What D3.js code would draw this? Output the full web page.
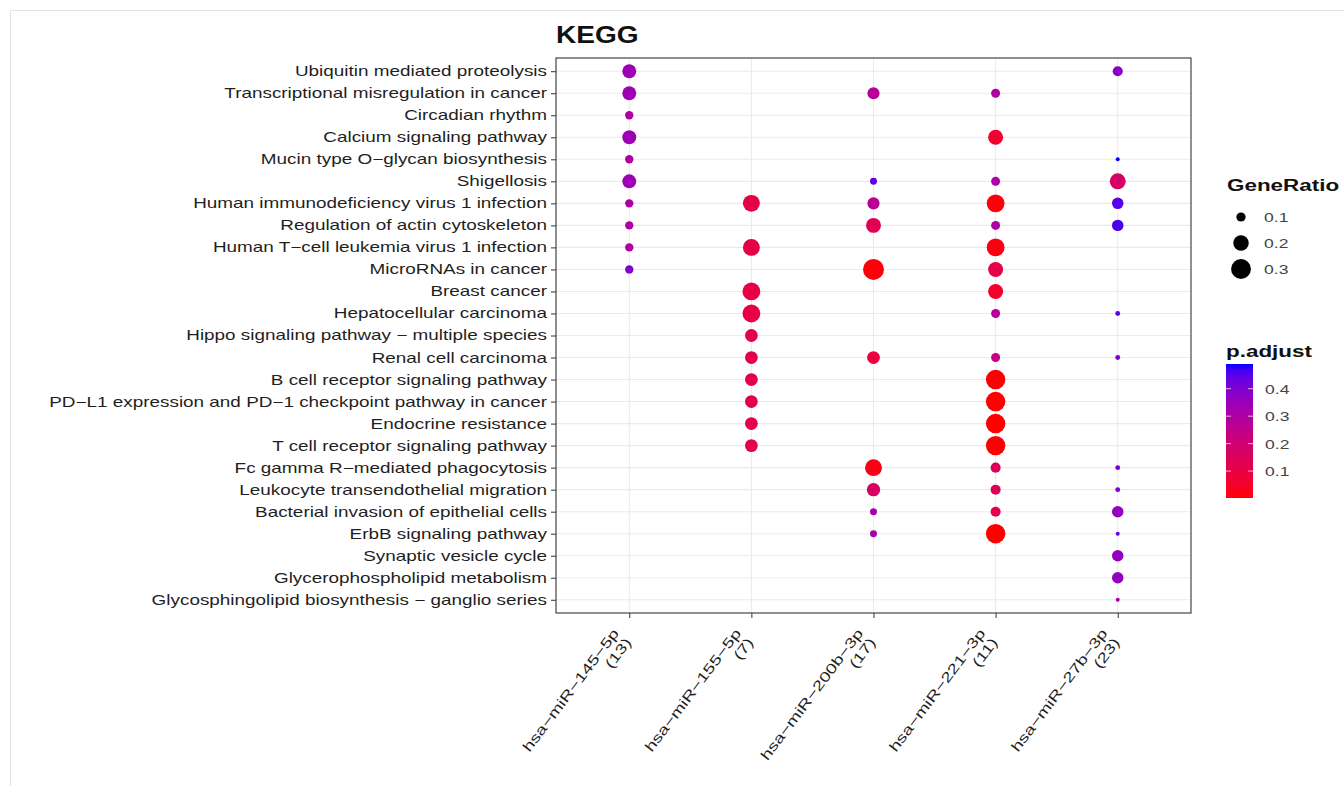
<!DOCTYPE html>
<html>
<head>
<meta charset="utf-8">
<script src="https://cdn.jsdelivr.net/npm/d3@7"></script>
<style>
  body { margin: 0; background: #fff; }
  text { font-family: "Liberation Sans", Arial, sans-serif; }
</style>
</head>
<body>
<div id="my_dataviz"></div>
<script>

// pathway names, top to bottom
var pathways = [
    "Ubiquitin mediated proteolysis",
    "Transcriptional misregulation in cancer",
    "Circadian rhythm",
    "Calcium signaling pathway",
    "Mucin type O\u2212glycan biosynthesis",
    "Shigellosis",
    "Human immunodeficiency virus 1 infection",
    "Regulation of actin cytoskeleton",
    "Human T\u2212cell leukemia virus 1 infection",
    "MicroRNAs in cancer",
    "Breast cancer",
    "Hepatocellular carcinoma",
    "Hippo signaling pathway \u2212 multiple species",
    "Renal cell carcinoma",
    "B cell receptor signaling pathway",
    "PD\u2212L1 expression and PD\u22121 checkpoint pathway in cancer",
    "Endocrine resistance",
    "T cell receptor signaling pathway",
    "Fc gamma R\u2212mediated phagocytosis",
    "Leukocyte transendothelial migration",
    "Bacterial invasion of epithelial cells",
    "ErbB signaling pathway",
    "Synaptic vesicle cycle",
    "Glycerophospholipid metabolism",
    "Glycosphingolipid biosynthesis \u2212 ganglio series"
];

var clusters = ["hsa\u2212miR\u2212145\u22125p", "hsa\u2212miR\u2212155\u22125p", "hsa\u2212miR\u2212200b\u22123p",
                "hsa\u2212miR\u2212221\u22123p", "hsa\u2212miR\u221227b\u22123p"];
var clusterCounts = [13, 7, 17, 11, 23];

// GeneRatio and p.adjust per cluster, one entry per pathway (null = no dot)
var ratio145 = [0.17, 0.17, 0.09, 0.17, 0.09, 0.17, 0.09, 0.09, 0.09, 0.09, null, null, null, null, null, null, null, null, null, null, null, null, null, null, null];
var padj145  = [0.34, 0.34, 0.30, 0.34, 0.30, 0.34, 0.30, 0.30, 0.30, 0.40, null, null, null, null, null, null, null, null, null, null, null, null, null, null, null];

var ratio155 = [null, null, null, null, null, null, 0.23, null, 0.23, null, 0.25, 0.25, 0.15, 0.15, 0.15, 0.15, 0.15, 0.15, null, null, null, null, null, null, null];
var padj155  = [null, null, null, null, null, null, 0.11, null, 0.11, null, 0.10, 0.10, 0.13, 0.13, 0.13, 0.13, 0.13, 0.13, null, null, null, null, null, null, null];

var ratio200b = [null, 0.14, null, null, null, 0.076, 0.14, 0.19, null, 0.33, null, null, null, 0.15, null, null, null, null, 0.23, 0.16, 0.076, 0.076, null, null, null];
var padj200b  = [null, 0.28, null, null, null, 0.44, 0.27, 0.13, null, 0.01, null, null, null, 0.09, null, null, null, null, 0.02, 0.17, 0.32, 0.32, null, null, null];

var ratio221 = [null, 0.097, null, 0.19, null, 0.097, 0.25, 0.097, 0.25, 0.19, 0.19, 0.097, null, 0.097, 0.29, 0.29, 0.29, 0.29, 0.11, 0.11, 0.11, 0.29, null, null, null];
var padj221  = [null, 0.29, null, 0.06, null, 0.31, 0.01, 0.31, 0.015, 0.11, 0.05, 0.28, null, 0.23, 0.005, 0.004, 0.003, 0.005, 0.15, 0.14, 0.12, 0.002, null, null, null];

var ratio27b = [0.11, null, null, null, 0.055, 0.21, 0.13, 0.13, null, null, null, 0.06, null, 0.06, null, null, null, null, 0.06, 0.06, 0.13, 0.055, 0.13, 0.13, 0.055];
var padj27b  = [0.38, null, null, null, 0.49, 0.17, 0.45, 0.46, null, null, null, 0.44, null, 0.40, null, null, null, null, 0.40, 0.40, 0.36, 0.44, 0.36, 0.36, 0.33];

var ratioBreaks = [0.1, 0.2, 0.3];
var padjBreaks = [0.1, 0.2, 0.3, 0.4];

var ratioSeries = [ratio145, ratio155, ratio200b, ratio221, ratio27b];
var padjSeries = [padj145, padj155, padj200b, padj221, padj27b];

// build one record per dot
var dots = [];
clusters.forEach(function (c, i) {
    pathways.forEach(function (p, j) {
        if (ratioSeries[i][j] != null) {
            dots.push({ cluster: c, pathway: p, ratio: ratioSeries[i][j], padj: padjSeries[i][j] });
        }
    });
});

var W = 1344, H = 786;
var sx = 1.35; // text is drawn a bit wide in the original
var panel = { left: 556, top: 58, right: 1191, bottom: 613 };

var svg = d3.select("#my_dataviz")
    .append("svg")
    .attr("width", W)
    .attr("height", H)
    .style("display", "block");

svg.append("rect").attr("width", W).attr("height", H).attr("fill", "#fff");

// faint frame of the screenshot
svg.append("path")
    .attr("d", "M10.5," + H + "V10.5H" + W)
    .attr("fill", "none")
    .attr("stroke", "#e3e3e3");

// scales
var x = d3.scalePoint()
    .domain(clusters)
    .range([panel.left, panel.right])
    .padding(0.6);

var y = d3.scalePoint()
    .domain(pathways)
    .range([panel.top, panel.bottom])
    .padding(0.6);

var size = d3.scaleRadial()
    .domain(d3.extent(dots, function (d) { return d.ratio; }))
    .range([2, 10.5]);

var color = d3.scaleLinear()
    .domain(d3.extent(dots, function (d) { return d.padj; }))
    .range(["red", "blue"])
    .interpolate(d3.interpolateLab);

// grid
svg.append("g")
    .selectAll("line")
    .data(pathways)
    .join("line")
    .attr("x1", panel.left).attr("x2", panel.right)
    .attr("y1", function (d) { return y(d); })
    .attr("y2", function (d) { return y(d); })
    .attr("stroke", "#ebebeb")
    .attr("stroke-width", 1.1);

svg.append("g")
    .selectAll("line")
    .data(clusters)
    .join("line")
    .attr("y1", panel.top).attr("y2", panel.bottom)
    .attr("x1", function (d) { return x(d); })
    .attr("x2", function (d) { return x(d); })
    .attr("stroke", "#ebebeb")
    .attr("stroke-width", 1.1);

// dots
svg.append("g")
    .selectAll("circle")
    .data(dots)
    .join("circle")
    .attr("cx", function (d) { return x(d.cluster); })
    .attr("cy", function (d) { return y(d.pathway); })
    .attr("r", function (d) { return size(d.ratio); })
    .attr("fill", function (d) { return color(d.padj); });

// panel border
svg.append("rect")
    .attr("x", panel.left).attr("y", panel.top)
    .attr("width", panel.right - panel.left)
    .attr("height", panel.bottom - panel.top)
    .attr("fill", "none")
    .attr("stroke", "#333")
    .attr("stroke-width", 1.1);

// Y axis
var yAxis = svg.append("g")
    .attr("transform", "translate(" + panel.left + ",0)")
    .call(d3.axisLeft(y).tickSize(5).tickPadding(4));
yAxis.select(".domain").remove();
yAxis.selectAll(".tick line").attr("stroke", "#333");
yAxis.selectAll(".tick text")
    .attr("x", -9 / sx)
    .attr("transform", "scale(" + sx + ",1)")
    .style("font-size", "14px")
    .attr("fill", "#1f1f1f");

// X axis, labels are two lines and rotated
var xAxis = svg.append("g")
    .attr("transform", "translate(0," + panel.bottom + ")")
    .call(d3.axisBottom(x).tickSize(5).tickFormat(""));
xAxis.select(".domain").remove();
xAxis.selectAll(".tick line").attr("stroke", "#333");

var xLab = svg.append("g")
    .selectAll("g")
    .data(clusters)
    .join("g")
    .attr("transform", function (d) { return "translate(" + (x(d) - 18) + "," + (panel.bottom + 14) + ") rotate(-53)"; });

var xText = xLab.append("text")
    .attr("transform", "scale(" + sx + ",1)")
    .attr("text-anchor", "end")
    .style("font-size", "14px")
    .attr("fill", "#1f1f1f");
xText.append("tspan").attr("x", 0).attr("dy", "0.75em").text(function (d) { return d; });
xText.append("tspan").attr("x", 0).attr("dy", "1.1em")
    .text(function (d, i) { return "(" + clusterCounts[i] + ")"; });

// title
svg.append("text")
    .attr("transform", "translate(556,43) scale(1.22,1)")
    .style("font-size", "23px")
    .style("font-weight", "bold")
    .attr("fill", "#111")
    .text("KEGG");

// legend: GeneRatio
svg.append("text")
    .attr("transform", "translate(1227,191) scale(1.32,1)")
    .style("font-size", "17px")
    .style("font-weight", "bold")
    .attr("fill", "#111")
    .text("GeneRatio");

var sizeKey = d3.scaleLinear().domain([0.1, 0.3]).range([217, 269]);

svg.append("g")
    .selectAll("circle")
    .data(ratioBreaks)
    .join("circle")
    .attr("cx", 1241)
    .attr("cy", function (d) { return sizeKey(d); })
    .attr("r", function (d) { return size(d); })
    .attr("fill", "#000");

svg.append("g")
    .selectAll("text")
    .data(ratioBreaks)
    .join("text")
    .attr("transform", function (d) { return "translate(1264," + (sizeKey(d) + 5) + ") scale(" + sx + ",1)"; })
    .style("font-size", "13px")
    .attr("fill", "#444")
    .text(function (d) { return d3.format(".1f")(d); });

// legend: p.adjust colour bar
svg.append("text")
    .attr("transform", "translate(1226,357) scale(1.32,1)")
    .style("font-size", "17px")
    .style("font-weight", "bold")
    .attr("fill", "#111")
    .text("p.adjust");

var bar = { x: 1226, w: 27, top: 364, bottom: 498 };
var barY = d3.scaleLinear().domain(color.domain()).range([bar.bottom, bar.top]);

var grad = svg.append("defs").append("linearGradient")
    .attr("id", "padjGrad")
    .attr("x1", 0).attr("y1", 1).attr("x2", 0).attr("y2", 0);
grad.selectAll("stop")
    .data(d3.range(0, 1.0001, 0.05))
    .join("stop")
    .attr("offset", function (d) { return d; })
    .attr("stop-color", function (d) {
        var dom = color.domain();
        return color(dom[0] + d * (dom[1] - dom[0]));
    });

svg.append("rect")
    .attr("x", bar.x).attr("y", bar.top)
    .attr("width", bar.w).attr("height", bar.bottom - bar.top)
    .attr("fill", "url(#padjGrad)");

// white ticks on the bar
var barTicks = svg.append("g").selectAll("g").data(padjBreaks).join("g");
barTicks.append("line")
    .attr("x1", bar.x).attr("x2", bar.x + 5)
    .attr("y1", function (d) { return barY(d); })
    .attr("y2", function (d) { return barY(d); })
    .attr("stroke", "#fff").attr("stroke-opacity", 0.7);
barTicks.append("line")
    .attr("x1", bar.x + bar.w - 5).attr("x2", bar.x + bar.w)
    .attr("y1", function (d) { return barY(d); })
    .attr("y2", function (d) { return barY(d); })
    .attr("stroke", "#fff").attr("stroke-opacity", 0.7);

svg.append("g")
    .selectAll("text")
    .data(padjBreaks)
    .join("text")
    .attr("transform", function (d) { return "translate(1265," + (barY(d) + 5) + ") scale(" + sx + ",1)"; })
    .style("font-size", "13px")
    .attr("fill", "#444")
    .text(function (d) { return d3.format(".1f")(d); });

</script>
</body>
</html>
